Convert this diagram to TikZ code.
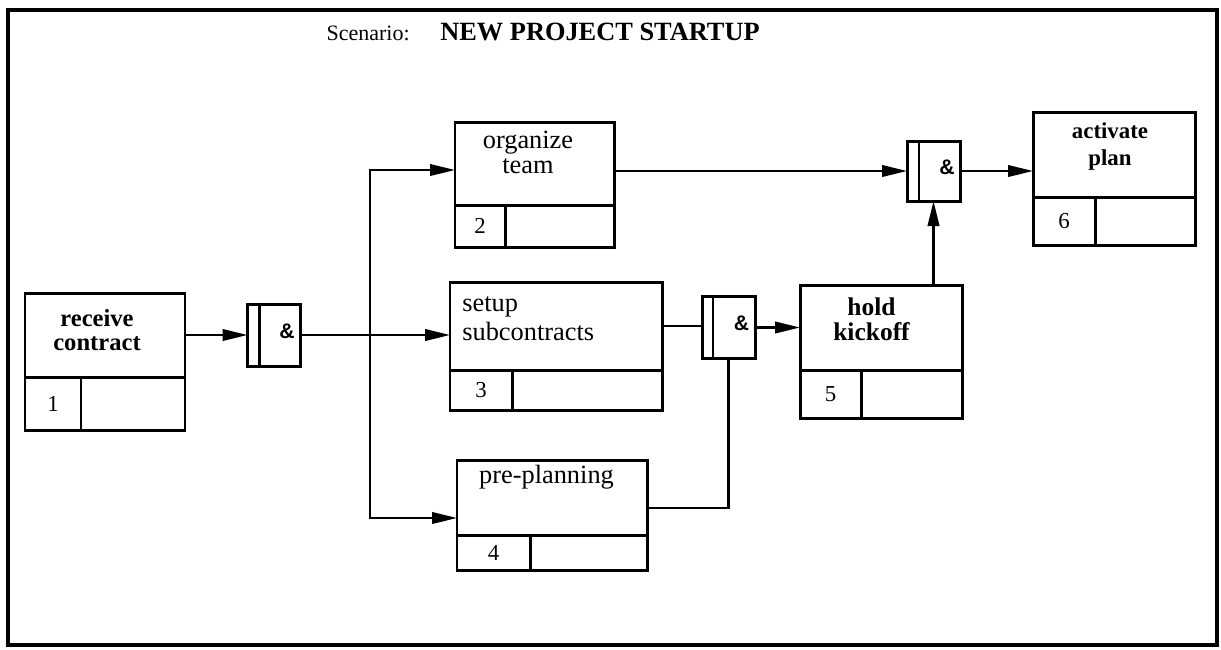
\documentclass[tikz,border=0pt]{standalone}
\usepackage{fontspec}
\setmainfont{Liberation Serif}
\newfontfamily\gatefont{Liberation Sans}
\usetikzlibrary{positioning, arrows.meta}

\tikzset{
	box/.style={draw, line width=1.7pt, inner sep=0pt, outer sep=0pt},
	numcell/.style={box, anchor=north west, font=\fontsize{13}{13}\selectfont},
	freecell/.style={box, anchor=north west},
	gate/.style={draw, line width=1.7pt, minimum width=1.06cm, minimum height=1.24cm, inner sep=0pt, outer sep=0pt},
	gatesym/.style={font=\gatefont\bfseries\fontsize{12}{12}\selectfont, inner sep=0pt},
	flow/.style={line width=1.3pt, -{Triangle[length=5mm,width=2.3mm]}},
	link/.style={line width=1.3pt},
	plaintxt/.style={font=\fontsize{15}{14}\selectfont, align=center, inner sep=0pt},
	boldtxt/.style={font=\bfseries\fontsize{14}{13.6}\selectfont, align=center, inner sep=0pt},
}

\begin{document}
\begin{tikzpicture}
		\useasboundingbox (0,0) rectangle (24.42,-12.98);
		\draw[line width=2pt] (0.16,-0.2) rectangle (24.34,-12.9);

		% title
		\node[anchor=base west, font=\bfseries\fontsize{15}{15}\selectfont, inner sep=0pt] (title) at (8.8,-0.8) {NEW PROJECT STARTUP};
		\node[left=6mm of title.base west,anchor=base east,font=\fontsize{12.5}{12.5}\selectfont, inner sep=0pt] (scen) {Scenario:};

		% receive contract
		\node[box, minimum width=3.2cm, minimum height=1.68cm] (recv) at (2.1,-6.7) {};
		\node[boldtxt] (recvtxt) at ([shift={(-0.16,0.1)}]recv.center) {receive\\contract};
		\node[numcell, minimum width=1.12cm, minimum height=1.06cm] (recvnum) at (recv.south west) {1};
		\node[freecell, minimum width=2.08cm, minimum height=1.06cm] (recvfree) at (recvnum.north east) {};

		% organize team
		\node[box, minimum width=3.18cm, minimum height=1.66cm] (org) at (10.69,-3.27) {};
		\node[plaintxt] (orgtxt) at ([shift={(-0.13,0.22)}]org.center) {organize\\team};
		\node[numcell, minimum width=1.0cm, minimum height=0.84cm] (orgnum) at (org.south west) {2};
		\node[freecell, minimum width=2.18cm, minimum height=0.84cm] (orgfree) at (orgnum.north east) {};

		% setup subcontracts
		\node[box, minimum width=4.24cm, minimum height=1.76cm] (setup) at (11.12,-6.52) {};
		\node[plaintxt, align=left, anchor=west, font=\fontsize{15}{16.5}\selectfont] (setuptxt)
			at ([shift={(0.24,0.15)}]setup.west) {setup\\subcontracts};
		\node[numcell, minimum width=1.24cm, minimum height=0.8cm] (setupnum) at (setup.south west) {3};
		\node[freecell, minimum width=3.0cm, minimum height=0.8cm] (setupfree) at (setupnum.north east) {};

		% pre-planning
		\node[box, minimum width=3.8cm, minimum height=1.5cm] (pre) at (11.04,-9.95) {};
		\node[plaintxt] (pretxt) at ([shift={(-0.11,0.41)}]pre.center) {pre-planning};
		\node[numcell, minimum width=1.46cm, minimum height=0.7cm] (prenum) at (pre.south west) {4};
		\node[freecell, minimum width=2.34cm, minimum height=0.7cm] (prefree) at (prenum.north east) {};

		% hold kickoff
		\node[box, minimum width=3.24cm, minimum height=1.7cm] (hold) at (17.62,-6.55) {};
		\node[boldtxt, font=\bfseries\fontsize{14.5}{14}\selectfont] (holdtxt) at ([shift={(-0.19,0.16)}]hold.center) {hold\\kickoff};
		\node[numcell, minimum width=1.22cm, minimum height=0.96cm] (holdnum) at (hold.south west) {5};
		\node[freecell, minimum width=2.02cm, minimum height=0.96cm] (holdfree) at (holdnum.north east) {};

		% activate plan
		\node[box, minimum width=3.24cm, minimum height=1.7cm] (act) at (22.28,-3.09) {};
		\node[boldtxt, font=\bfseries\fontsize{13}{15}\selectfont] (acttxt) at ([shift={(-0.08,0.16)}]act.center) {activate\\plan};
		\node[numcell, minimum width=1.24cm, minimum height=0.96cm] (actnum) at (act.south west) {6};
		\node[freecell, minimum width=2.0cm, minimum height=0.96cm] (actfree) at (actnum.north east) {};

		% and gates
		\node[gate] (and1) at (5.48,-6.7) {};
		\draw[line width=1.5pt] ([xshift=2.4mm]and1.north west) -- ([xshift=2.4mm]and1.south west);
		\node[gatesym] (and1sym) at ([shift={(2.6mm,0.8mm)}]and1.center) {\&};

		\node[gate] (and2) at (14.57,-6.55) {};
		\draw[line width=1.5pt] ([xshift=2.2mm]and2.north west) -- ([xshift=2.2mm]and2.south west);
		\node[gatesym] (and2sym) at ([shift={(2.6mm,0.8mm)}]and2.center) {\&};

		\node[gate, minimum height=1.2cm] (and3) at (18.67,-3.42) {};
		\draw[line width=1.5pt] ([xshift=2.4mm]and3.north west) -- ([xshift=2.4mm]and3.south west);
		\node[gatesym] (and3sym) at ([shift={(2.7mm,0.8mm)}]and3.center) {\&};

		% connectors
		\coordinate (split) at (7.4,-6.7);
		\draw[flow] (recv.east) -- (and1.west);
		\draw[link] (and1.east) -- (split);
		\draw[flow] (split) |- ([yshift=-1.3mm]org.west);
		\draw[flow] (split) -- (split -| setup.west);
		\draw[flow] (split) |- ([yshift=-4.1mm]pre.west);

		\draw[flow] (and3.west -| org.east) -- (and3.west);
		\draw[link] (setup.east) -- (setup.east -| and2.west);
		\draw[link] ([yshift=-2.1mm]pre.east) -| (and2.south);
		\draw[flow] (and2.east) -- (and2.east -| hold.west);
		\draw[flow] (and3.south |- hold.north) -- (and3.south);
		\draw[flow] (and3.east) -- (and3.east -| act.west);

	\end{tikzpicture}
\end{document}
